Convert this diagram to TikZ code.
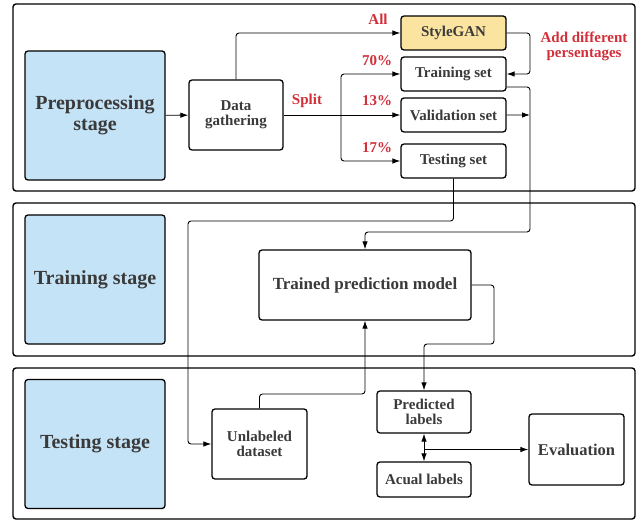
\documentclass[tikz,border=0pt]{standalone}
\usepackage{fontspec}
\setmainfont{Liberation Serif}
\usepackage{xcolor}
\usetikzlibrary{positioning, arrows.meta, calc}

\definecolor{stageblue}{HTML}{C5E3F6}
\definecolor{ganyellow}{HTML}{FBE4A0}
\definecolor{notered}{HTML}{D12F3A}
\definecolor{textgray}{HTML}{3A3A3A}

\begin{document}
\begin{tikzpicture}[x=1pt, y=-1pt, >={Latex[length=8pt, width=5.5pt]},
  panel/.style={draw, line width=1.4pt, rounded corners=3pt, minimum width=622pt, inner sep=0pt},
  stage/.style={draw, line width=1.3pt, rounded corners=3pt, fill=stageblue, minimum width=140pt,
    minimum height=129pt, font=\bfseries\fontsize{20}{21}\selectfont, text=textgray, align=center},
  box/.style={draw, line width=1.3pt, rounded corners=3pt, fill=white, minimum width=105pt,
    minimum height=34pt, font=\bfseries\fontsize{15}{15}\selectfont, text=textgray, align=center},
  link/.style={->, line width=0.9pt, rounded corners=3pt},
  note/.style={font=\bfseries\fontsize{15}{15}\selectfont, text=notered, align=center}]
  \useasboundingbox (0,0) rectangle (637,521);

  \node[panel, minimum height=187pt] (prepanel)  at (324,97.5)  {};
  \node[panel, minimum height=153pt] (trainpanel) at (324,279.5) {};
  \node[panel, minimum height=151pt] (testpanel)  at (324,443.5) {};

  \node[stage] (pre)   at (95,115.5) {Preprocessing\\stage};
  \node[stage] (train) at (95,279.5) {Training stage};
  \node[stage] (test)  at (95,444)   {Testing stage};

  \node[box, minimum width=94pt, minimum height=70pt] (gather) at (236,115) {Data\\gathering};
  \node[box, fill=ganyellow] (gan) at (453.5,33) {StyleGAN};
  \node[box] (trainset) [below=5.7pt of gan]      {Training set};
  \node[box] (valset)   [below=5.7pt of trainset] {Validation set};
  \node[box] (testset)  [below=10.7pt of valset]  {Testing set};

  \node[box, minimum width=212pt, minimum height=70pt, font=\bfseries\fontsize{17}{18}\selectfont]
    (model) at (365,285) {Trained prediction model};
  \node[box, minimum width=95pt, minimum height=70pt] (unlab) at (259.5,444) {Unlabeled\\dataset};
  \node[box, minimum width=94pt, minimum height=42pt] (pred) at (424,412) {Predicted\\labels};
  \node[box, minimum width=94pt, minimum height=35pt] (actual) [below=27.7pt of pred] {Acual labels};
  \node[box, minimum width=95pt, minimum height=71pt, font=\bfseries\fontsize{16.5}{18}\selectfont]
    (eval) at (576.5,449.5) {Evaluation};

  \coordinate (split)     at (341,115);
  \coordinate (ganturn)   at (530,33);
  \coordinate (valend)    at (530,115);
  \coordinate (trainturn) at (530,232);
  \coordinate (testturn)  at (188,221);
  \coordinate (modelturn) at (494,344);
  \coordinate (unlabturn) at (365,394);

  \draw[link] (pre) -- (gather);
  \draw[link] (gather.north) |- (gan.west);
  \draw[link] (gather.east) -- (gather.east -| valset.west);
  \draw[link] (split) |- (trainset.west);
  \draw[link] (split) |- (testset.west);
  \draw[link] (gan.east) -- (ganturn) |- (trainset.east);
  \draw[link] (valset.east) -- (valend);
  \draw[link] ([yshift=-13pt]trainset.east) -| (trainturn) -| (model.north);
  \draw[link] (testset.south) |- (testturn) |- (unlab.west);
  \draw[link] (model.east) -| (modelturn) -| (pred.north);
  \draw[link] (unlab.north) |- (unlabturn) -- (model.south);
  \draw[link, <->] (pred.south) -- (actual.north);
  \draw[link] (pred.south |- eval.west) -- (eval.west);

  \node[note] (alllabel)   at (378,19)  {All};
  \node[note] (splitlabel) at (307,101) {Split};
  \node[note] (seventy)    at (377,61)  {70\%};
  \node[note] (thirteen)   at (377,101) {13\%};
  \node[note] (seventeen)  at (377,148) {17\%};
  \node[note] (addlabel)   at (584,46)  {Add different\\persentages};
\end{tikzpicture}
\end{document}
